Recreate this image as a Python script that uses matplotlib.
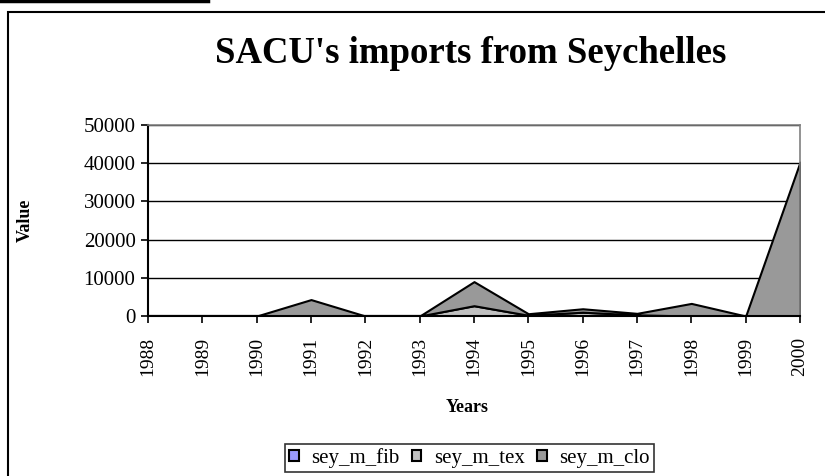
import matplotlib
matplotlib.use('Agg')
import numpy as np
import matplotlib.pyplot as plt
from matplotlib.patches import Rectangle
from matplotlib.lines import Line2D

years = [1988, 1989, 1990, 1991, 1992, 1993, 1994, 1995, 1996, 1997, 1998, 1999, 2000]
sey_m_fib = [0, 0, 0, 0, 0, 0, 0, 0, 0, 0, 0, 0, 0]
sey_m_tex = [0, 0, 0, 0, 0, 0, 2700, 200, 1000, 300, 0, 0, 0]
sey_m_clo = [0, 0, 0, 4300, 0, 0, 6300, 400, 900, 400, 3300, 0, 40300]

plt.rcParams['font.family'] = ['Liberation Serif', 'DejaVu Serif']

fig = plt.figure(figsize=(8.25, 4.76), dpi=100)
ax = fig.add_axes([0.1794, 0.3361, 0.7903, 0.4013])

x = np.arange(len(years))
ax.stackplot(x, sey_m_fib, sey_m_tex, sey_m_clo,
             colors=['#9999ff', '#c0c0c0', '#999999'],
             edgecolor='black', linewidth=1.5,
             labels=['sey_m_fib', 'sey_m_tex', 'sey_m_clo'])

ax.set_xlim(0, len(years) - 1)
ax.set_ylim(0, 50000)
ax.set_yticks(np.arange(0, 50001, 10000))
ax.set_xticks(x)
ax.set_xticklabels([str(y) for y in years], rotation=90, fontsize=14)
ax.tick_params(axis='y', labelsize=15, direction='out', length=5, width=1.2, pad=4)
ax.tick_params(axis='x', direction='out', length=5, width=1.2, pad=10)
ax.yaxis.grid(True, color='black', linewidth=1)
ax.set_axisbelow(True)
for s in ['top', 'right']:
    ax.spines[s].set_color('#808080')
    ax.spines[s].set_linewidth(1.2)
for s in ['left', 'bottom']:
    ax.spines[s].set_color('black')
    ax.spines[s].set_linewidth(1.5)

fig.text(0.57, 0.888, "SACU's imports from Seychelles", ha='center', va='center',
         fontsize=26.5, fontweight='bold')
fig.text(0.566, 0.143, 'Years', ha='center', va='center', fontsize=13, fontweight='bold')
fig.text(0.031, 0.537, 'Value', ha='center', va='center', rotation=90,
         fontsize=13, fontweight='bold')

# chart frame and the rule across the top
fig.add_artist(Rectangle((8 / 825, -0.01), 1.0, 1 - 12 / 476 + 0.01,
                         transform=fig.transFigure, fill=False,
                         edgecolor='black', linewidth=1.5))
fig.add_artist(Line2D([0, 208 / 825], [0.998, 0.998], transform=fig.transFigure,
                      color='black', linewidth=2.5))

handles, labels = ax.get_legend_handles_labels()
leg = fig.legend(handles, labels, loc='center', bbox_to_anchor=(0.569, 0.038),
                 ncol=3, fontsize=15, frameon=True, fancybox=False,
                 edgecolor='black', handlelength=0.45, handleheight=0.45,
                 handletextpad=0.6, columnspacing=0.6, borderpad=0.2,
                 borderaxespad=0.2)
leg.get_frame().set_linewidth(1.2)

fig.savefig('out.png', dpi=100)
